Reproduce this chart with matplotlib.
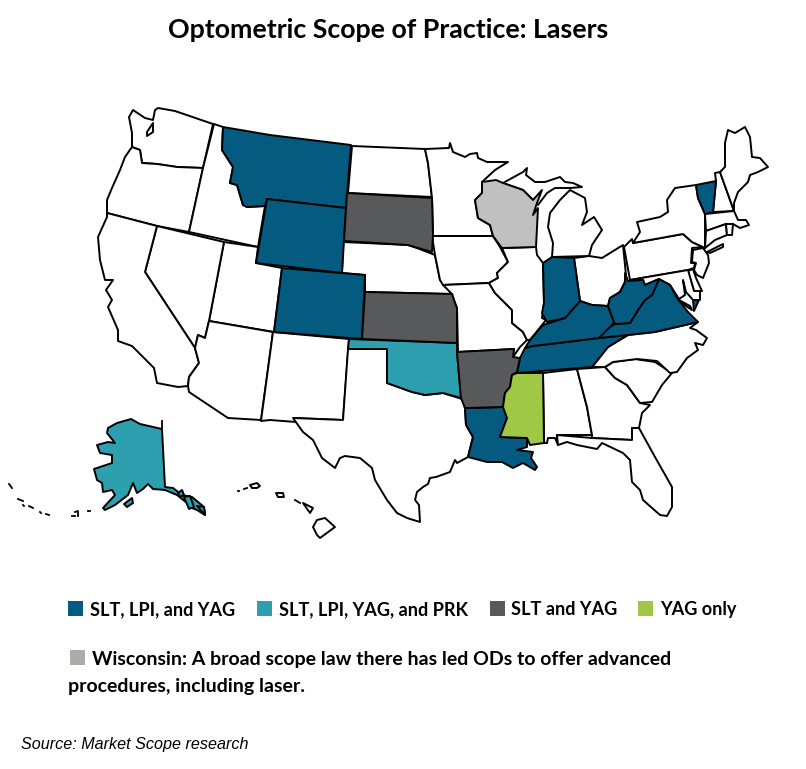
import matplotlib
matplotlib.use("Agg")
import matplotlib.pyplot as plt
from matplotlib.patches import Rectangle

# outlines, in image pixels
WA = [(158,108),(175,111),(213,124),(203,168),(177,167),(157,164),(142,163),(140,150),(132,147),(132,133),(129,117),(133,110),(145,118),(153,120),(155,110)]
PUGET = [(153,123),(147,132),(147,136),(153,132)]
OR = [(132,147),(140,150),(142,163),(157,164),(177,167),(203,168),(189,232),(157,226),(107,213),(107,200),(112,188),(120,170),(125,157)]
ID = [(214,124),(223,127),(222,150),(233,167),(230,183),(237,185),(243,205),(247,207),(265,206),(258,247),(189,232),(203,168)]
MT = [(223,127),(270,135),(351,145),(346,208),(267,199),(265,206),(247,207),(243,205),(237,185),(230,183),(233,167),(222,150)]
WY = [(267,199),(346,208),(342,273),(256,263)]
CO = [(282,268),(365,275),(362,339),(274,332)]
UT = [(224,242),(258,247),(256,263),(282,268),(274,332),(209,321)]
NV = [(157,226),(224,242),(209,321),(205,338),(198,335),(195,348),(145,272)]
CA = [(107,213),(157,226),(145,272),(195,348),(199,363),(189,377),(188,386),(178,387),(157,383),(154,368),(143,357),(132,346),(118,341),(118,330),(108,307),(112,300),(106,290),(113,280),(105,280),(100,260),(98,237),(107,217)]
AZ = [(209,321),(273,332),(261,420),(228,418),(189,392),(188,386),(189,377),(199,363),(195,348),(198,335),(205,338)]
NM = [(273,332),(349,339),(343,420),(294,418),(296,422),(270,420),(261,421)]
TX = [(348,349),(387,349),(387,383),(412,392),(425,395),(443,393),(462,399),(465,408),(466,425),(473,437),(468,457),(457,463),(455,460),(450,472),(436,477),(430,478),(428,484),(423,487),(417,492),(415,500),(419,505),(420,522),(407,518),(397,513),(387,500),(375,480),(372,468),(360,458),(345,456),(340,458),(335,468),(322,458),(313,440),(303,432),(293,418),(343,420)]
OK = [(349,339),(457,343),(457,352),(461,398),(443,393),(425,395),(412,392),(387,383),(387,349),(348,349)]
KS = [(365,292),(452,294),(455,303),(457,308),(457,343),(362,339)]
NE = [(343,242),(408,245),(417,248),(435,255),(440,280),(452,294),(365,292),(365,275),(342,273)]
SD = [(347,193),(432,198),(433,235),(432,252),(418,248),(408,245),(344,241)]
ND = [(352,146),(425,149),(428,163),(432,197),(348,193)]
MN = [(425,149),(449,148),(450,143),(453,152),(465,157),(470,154),(477,153),(478,158),(487,162),(508,162),(495,170),(482,182),(482,193),(475,200),(478,218),(490,225),(493,236),(433,236),(432,198),(428,163)]
IA = [(432,236),(493,236),(500,247),(508,262),(497,273),(498,278),(489,283),(443,285),(440,280),(435,255)]
MO = [(443,285),(489,283),(495,293),(512,310),(512,323),(523,332),(527,340),(520,347),(513,357),(514,349),(458,352),(457,308),(455,303),(452,294)]
AR = [(457,352),(514,349),(513,357),(520,358),(517,372),(512,375),(510,387),(505,393),(503,407),(465,408),(461,398)]
LA = [(465,408),(503,407),(507,418),(500,437),(527,438),(527,447),(517,450),(533,452),(531,458),(537,467),(535,470),(523,463),(513,468),(502,462),(487,462),(468,457),(473,437),(466,425)]
MS = [(517,373),(543,373),(544,443),(530,445),(527,438),(500,437),(507,418),(503,407),(505,393),(510,387),(512,375)]
AL = [(543,373),(577,369),(587,407),(592,435),(557,435),(558,445),(555,438),(548,438),(547,443),(544,443)]
GA = [(577,369),(605,367),(615,378),(627,385),(640,403),(650,405),(642,413),(639,428),(632,428),(632,440),(592,438),(592,435),(587,407)]
FL = [(557,435),(592,438),(632,440),(632,428),(639,428),(655,457),(672,487),(672,507),(667,516),(660,515),(643,500),(640,490),(632,482),(630,460),(623,453),(602,443),(597,449),(577,445),(567,442),(558,445)]
SC = [(605,367),(613,362),(635,359),(655,362),(672,373),(662,385),(652,402),(640,403),(627,385),(615,378)]
NC = [(698,322),(690,328),(696,330),(707,338),(703,345),(695,343),(698,350),(687,358),(677,372),(670,373),(657,361),(637,359),(613,362),(605,367),(592,367),(608,347),(628,335),(655,332)]
TN = [(525,348),(533,346),(599,338),(628,335),(608,347),(592,367),(517,373),(520,358)]
KY = [(530,340),(543,325),(565,318),(580,301),(592,305),(608,306),(614,322),(610,328),(599,338),(533,346),(525,348)]
VA = [(599,338),(610,327),(615,324),(630,323),(638,310),(645,300),(652,295),(659,279),(670,285),(677,298),(688,312),(698,322),(655,332),(628,335)]
VA_SHORE = [(693,300),(699,300),(694,311)]
WV = [(608,306),(610,298),(620,292),(625,282),(625,273),(628,281),(643,280),(645,285),(659,279),(652,295),(645,300),(638,310),(630,323),(615,324),(614,322)]
OH = [(574,258),(589,256),(602,258),(623,245),(626,275),(625,282),(620,292),(610,298),(608,306),(592,305),(580,301)]
IN = [(543,263),(552,257),(574,258),(580,301),(565,318),(547,322),(542,313),(544,303)]
IL = [(502,248),(536,247),(537,255),(543,263),(544,303),(542,318),(546,320),(530,340),(527,340),(523,332),(512,323),(512,310),(495,293),(489,283),(498,278),(497,273),(508,262)]
WI = [(482,182),(496,180),(503,183),(523,190),(533,200),(542,190),(537,203),(533,215),(538,208),(536,247),(502,248),(493,236),(490,225),(478,218),(475,200),(482,193)]
MI_UP = [(503,183),(523,172),(527,168),(526,175),(535,182),(545,182),(560,177),(565,182),(573,183),(582,187),(570,188),(555,188),(547,193),(538,205),(533,200),(523,190)]
MI_LP = [(570,190),(585,198),(587,212),(582,225),(594,217),(602,230),(592,245),(589,256),(552,257),(553,243),(548,227),(550,213),(560,200)]
PA = [(624,247),(632,239),(633,243),(683,234),(692,242),(703,247),(692,248),(691,263),(695,263),(694,268),(688,270),(630,280)]
NY = [(633,243),(640,232),(637,222),(660,217),(668,212),(667,200),(675,188),(696,185),(698,198),(705,214),(705,248),(692,242),(683,234)]
LI = [(707,252),(723,244),(723,247),(710,253)]
VT = [(696,185),(716,181),(713,212),(705,214),(698,198)]
NH = [(716,181),(715,173),(720,172),(734,211),(713,212)]
ME = [(720,172),(725,167),(725,143),(728,130),(735,133),(745,127),(750,137),(752,157),(760,158),(768,167),(758,172),(750,175),(748,182),(738,192),(734,203),(734,211)]
MA = [(705,214),(734,211),(738,220),(746,220),(749,225),(740,228),(733,224),(726,224),(706,231)]
CT = [(706,231),(726,224),(727,235),(715,240),(705,248)]
RI = [(726,224),(733,224),(732,235),(727,235)]
NJ = [(703,248),(708,255),(709,263),(703,278),(697,275),(694,270),(696,263),(692,262),(693,250)]
DE = [(688,271),(693,269),(696,278),(702,291),(694,291)]
MD = [(630,280),(688,270),(694,291),(700,291),(700,300),(693,300),(686,292),(683,280),(685,295),(679,299),(670,285),(659,279),(645,285),(643,280)]
BAY = [(679,300),(690,306),(692,310),(683,304)]
AK = [(117,423),(131,419),(140,424),(162,429),(165,487),(173,488),(182,495),(192,497),(204,507),(205,515),(197,510),(192,508),(187,503),(177,495),(165,490),(153,489),(148,484),(143,489),(137,493),(133,483),(128,495),(115,505),(105,510),(103,508),(115,495),(112,490),(103,492),(102,483),(97,480),(94,469),(100,467),(112,463),(112,455),(100,453),(97,445),(108,442),(115,443),(107,433),(108,428)]
AK_BORDER = [(162,421),(162,429)]
KODIAK = [(124,504),(132,498),(133,503),(127,507)]
AK_ISLE1 = [(178,493),(182,490),(184,495),(180,497)]
AK_ISLE2 = [(184,497),(190,496),(194,507),(189,509)]
AK_ISLE3 = [(197,506),(204,507),(205,515)]
ALEUTIANS = [[(9,484),(12,488)],[(18,499),(23,501)],[(23,505),(24,506)],[(29,506),(33,508)],[(40,512),(41,513)],[(46,514),(49,515)],[(72,516),(75,516)],[(75,512),(78,511),(78,516)],[(88,511),(90,511)]]
HI_BIG = [(317,520),(325,518),(335,527),(320,538),(317,535),(313,527)]
HI_MAUI = [(303,503),(313,508),(310,513)]
HI_OAHU = [(276,493),(283,493),(284,497),(278,497)]
HI_KAUAI = [(250,485),(257,483),(260,486),(257,488),(252,488)]
HI_SMALL = [[(295,500),(300,503)],[(244,489),(247,488)],[(238,491),(239,491)]]

NO_DATA = [WA, OR, ID, UT, NV, CA, AZ, NM, TX, NE, ND, MN, IA, MO, AL, GA, FL, SC, NC, OH, IL,
           MI_UP, MI_LP, PA, NY, LI, NH, ME, MA, CT, RI, NJ, DE, MD,
           HI_BIG, HI_MAUI, HI_OAHU, HI_KAUAI]
SLT_LPI_YAG = [MT, WY, CO, LA, TN, KY, VA, VA_SHORE, WV, IN, VT]
WITH_PRK = [OK, AK, KODIAK, AK_ISLE1, AK_ISLE2, AK_ISLE3]
SLT_YAG = [SD, KS, AR]
YAG_ONLY = [MS]
BROAD_SCOPE = [WI]

legend_labels = ["SLT, LPI, and YAG", "SLT, LPI, YAG, and PRK", "SLT and YAG", "YAG only"]
legend_colors = ["#045A7F", "#2E9FAE", "#58595B", "#9FC847"]
wi_note = ["Wisconsin: A broad scope law there has led ODs to offer advanced",
           "procedures, including laser."]

fig = plt.figure(figsize=(8.06, 7.69), dpi=100)
ax = fig.add_axes([0, 0, 1, 1])
ax.set_xlim(0, 806)
ax.set_ylim(769, 0)
ax.axis("off")


def draw_states(states, color):
    for shape in states:
        xs, ys = zip(*shape)
        ax.fill(xs, ys, facecolor=color, edgecolor="black", linewidth=1.4, joinstyle="round")


draw_states(NO_DATA, "white")
draw_states(SLT_LPI_YAG, legend_colors[0])
draw_states(WITH_PRK, legend_colors[1])
draw_states(SLT_YAG, legend_colors[2])
draw_states(YAG_ONLY, legend_colors[3])
draw_states(BROAD_SCOPE, "#C0C0C0")
draw_states([PUGET, BAY], "white")

for line in ALEUTIANS + HI_SMALL + [AK_BORDER]:
    xs, ys = zip(*line)
    ax.plot(xs, ys, color="black", linewidth=1.3)

ax.text(388, 38, "Optometric Scope of Practice: Lasers", family="Lato", weight="bold",
        fontsize=19.3, ha="center", va="baseline", color="black")

square_x = [68, 257, 490, 638]
text_x = [90, 279, 511, 660]
for sx, tx, label, color in zip(square_x, text_x, legend_labels, legend_colors):
    ax.add_patch(Rectangle((sx, 601), 15, 15, facecolor=color, edgecolor="none"))
    ax.text(tx, 615, label, family="Lato", weight="bold", fontsize=13.1,
            ha="left", va="baseline", color="black")

ax.add_patch(Rectangle((70, 650), 15, 15, facecolor="#AFABAB", edgecolor="none"))
ax.text(92, 665, wi_note[0], family="Lato", weight="bold", fontsize=14, ha="left", va="baseline")
ax.text(68, 692, wi_note[1], family="Lato", weight="bold", fontsize=14, ha="left", va="baseline")

ax.text(21, 749, "Source: Market Scope research", family="Liberation Sans", style="italic",
        fontsize=11.6, ha="left", va="baseline", color="black")

fig.savefig("out.png", dpi=100)
